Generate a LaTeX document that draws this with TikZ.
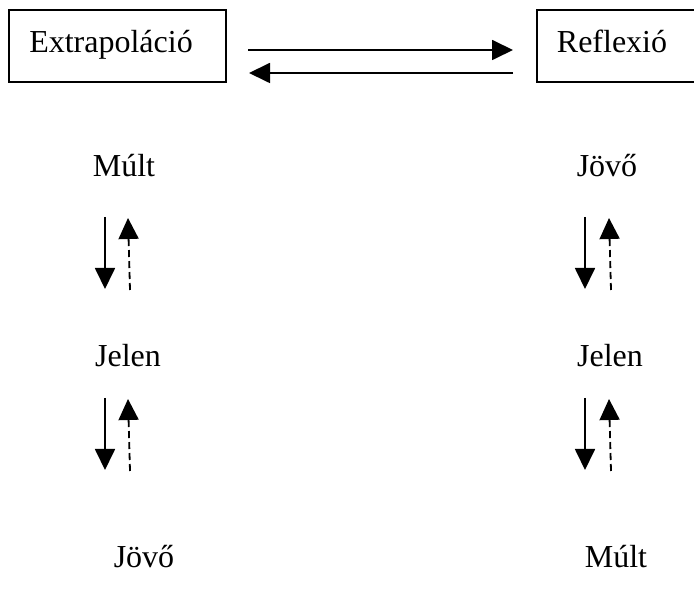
\documentclass[tikz,border=0pt]{standalone}
\usepackage{fontspec}
\setmainfont{Liberation Serif}
\usetikzlibrary{arrows.meta}

\begin{document}
\begin{tikzpicture}[x=1pt,y=1pt]
\definecolor{fillColor}{RGB}{255,255,255}
\path[use as bounding box,fill=fillColor] (0,0) rectangle (694,603);
\tikzset{
  lbl/.style={text=drawColor,anchor=base,inner sep=0pt,outer sep=0pt,font=\fontsize{32}{38}\selectfont},
  conn/.style={draw=drawColor,line width=1.8pt,-{Triangle[length=21pt,width=20pt]}},
  back/.style={conn,dash pattern=on 7pt off 4pt}
}
\begin{scope}
\path[clip] (0,0) rectangle (694,603);
\definecolor{drawColor}{RGB}{0,0,0}

\path[draw=drawColor,line width=1.8pt] (  9.00,521.00) rectangle (226.00,593.00);

\path[draw=drawColor,line width=1.8pt] (537.00,521.00) rectangle (700.00,593.00);

\node[lbl] (extra) at (111.00,550.00) {Extrapoláció};

\node[lbl] (refl) at (612.00,550.00) {Reflexió};
\end{scope}
\begin{scope}
\definecolor{drawColor}{RGB}{0,0,0}
\coordinate (ea) at (248.00,553.00);
\coordinate (ra) at (513.00,553.00);
\coordinate (eb) at (249.00,530.00);
\coordinate (rb) at (513.00,530.00);

\path[conn] (ea) -- (ra);

\path[conn] (rb) -- (eb);
\end{scope}
\begin{scope}
\definecolor{drawColor}{RGB}{0,0,0}

\node[lbl] (mult1) at (124.00,426.00) {Múlt};

\node[lbl] (jelen1) at (128.00,236.00) {Jelen};

\node[lbl] (jovo1) at (144.00, 36.00) {Jövő};

\node[lbl] (jovo2) at (607.00,426.00) {Jövő};

\node[lbl] (jelen2) at (610.00,236.00) {Jelen};

\node[lbl] (mult2) at (616.00, 36.00) {Múlt};
\end{scope}
\begin{scope}
\definecolor{drawColor}{RGB}{0,0,0}
\foreach \x/\s in {105/a,585/b}{
  \coordinate (d1\s) at (\x,386);
  \coordinate (e1\s) at (\x,314);
  \coordinate (d2\s) at (\x,205);
  \coordinate (e2\s) at (\x,133);
  \path[conn] (d1\s) -- (e1\s);
  \path[conn] (d2\s) -- (e2\s);
}
\foreach \x/\s in {128/a,609/b}{
  \coordinate (u1\s) at (\x+2,313);
  \coordinate (v1\s) at (\x,385);
  \coordinate (u2\s) at (\x+2,132);
  \coordinate (v2\s) at (\x,204);
  \path[back] (u1\s) -- (v1\s);
  \path[back] (u2\s) -- (v2\s);
}
\end{scope}
\end{tikzpicture}
\end{document}
